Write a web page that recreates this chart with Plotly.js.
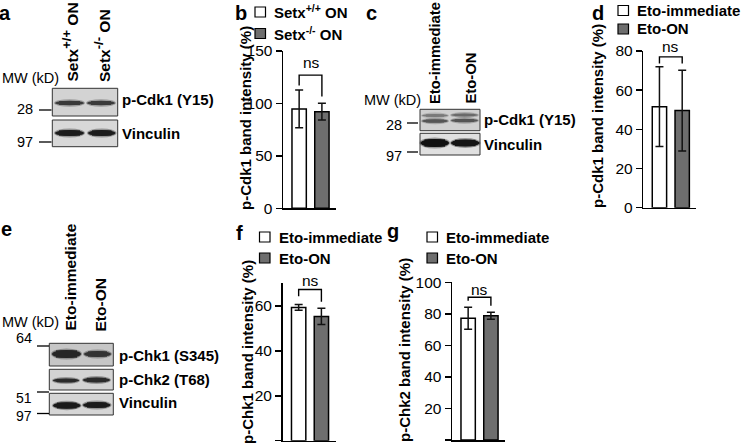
<!DOCTYPE html>
<html>
<head>
<meta charset="utf-8">
<script src="https://cdn.plot.ly/plotly-3.0.1.min.js"></script>
<style>html,body{margin:0;padding:0;background:#fff;}#chart{width:742px;height:446px;}</style>
</head>
<body>
<div id="chart"></div>
<script>
// ---------- data ----------
const catsB = ['Setx+/+ ON', 'Setx-/- ON'];
const catsEto = ['Eto-immediate', 'Eto-ON'];

const bMeans = [94.7, 92.1];
const bErr = [18, 8];
const bBracket = [117, 127, 127, 106.5];

const dMeans = [51.6, 49.6];
const dErr = [20.4, 20.6];
const dBracket = [73.6, 77, 77, 73.6];

const fMeans = [59.3, 55.3];
const fErr = [1.3, 3.6];
const fBracket = [64.3, 67.3, 67.3, 61.8];

const gMeans = [77.2, 78.8];
const gErr = [7, 2.2];
const gBracket = [88.3, 90.5, 90.5, 85.2];

const bTicks = [0, 50, 100, 150];
const dTicks = [0, 20, 40, 60, 80];
const fTicks = [0, 20, 40, 60];
const gTicks = [0, 20, 40, 60, 80, 100];

// ---------- helpers ----------
const W = 742, H = 446;
const X = p => p / W;
const Y = p => 1 - p / H;
const FONT = 'Liberation Sans, Arial, Helvetica, sans-serif';
const GRAY = '#6e6e6e';

function barTrace(cats, means, err, xa, ya) {
  return {
    type: 'bar', x: cats, y: means, xaxis: xa, yaxis: ya, width: 0.63,
    marker: {color: ['#ffffff', GRAY], line: {color: '#000', width: 1.5}},
    error_y: {type: 'data', array: err, visible: true, color: '#111', thickness: 1.5, width: 4},
    hoverinfo: 'skip'
  };
}
function bracketTrace(cats, br, xa, ya) {
  return {
    type: 'scatter', mode: 'lines', x: [cats[0], cats[0], cats[1], cats[1]], y: br,
    xaxis: xa, yaxis: ya, line: {color: '#000', width: 1.4}, hoverinfo: 'skip', cliponaxis: false
  };
}
function xAx(l, r) {
  return {domain: [X(l), X(r)], range: [-0.71, 1.62], type: 'category', showline: true, linecolor: '#000',
    linewidth: 1.5, ticks: '', showticklabels: false, showgrid: false, zeroline: false, fixedrange: true};
}
function yAx(bottom, top, range, ticks) {
  return {domain: [Y(bottom), Y(top)], range: range, tickvals: ticks, ticktext: ticks.map(String),
    showline: true, linecolor: '#000', linewidth: 1.5, ticks: 'outside', ticklen: 6, tickwidth: 1.5,
    tickcolor: '#000', showgrid: false, zeroline: false, tickfont: {family: FONT, size: 15.5, color: '#000'},
    fixedrange: true};
}

const data = [
  barTrace(catsB, bMeans, bErr, 'x', 'y'),
  bracketTrace(catsB, bBracket, 'x', 'y'),
  barTrace(catsEto, dMeans, dErr, 'x2', 'y2'),
  bracketTrace(catsEto, dBracket, 'x2', 'y2'),
  barTrace(catsEto, fMeans, fErr, 'x3', 'y3'),
  bracketTrace(catsEto, fBracket, 'x3', 'y3'),
  barTrace(catsEto, gMeans, gErr, 'x4', 'y4'),
  bracketTrace(catsEto, gBracket, 'x4', 'y4')
];

// ---------- annotations ----------
const ann = [];
function txt(text, x, y, o) {
  o = o || {};
  ann.push(Object.assign({text: text, x: X(x), y: Y(y), xref: 'paper', yref: 'paper', showarrow: false,
    xanchor: 'left', yanchor: 'middle', font: {family: FONT, size: 14, color: '#000'}}, o));
}
function bold(text, x, y, size, o) {
  o = Object.assign({}, o || {});
  o.font = {family: FONT, size: size, color: '#000'};
  txt('<b>' + text + '</b>', x, y, o);
}
// panel letters
[['a', 5, 12.5], ['b', 241, 13], ['c', 371, 12.5], ['d', 598, 12.5], ['e', 6, 229], ['f', 239, 233], ['g', 393, 231]]
  .forEach(l => bold(l[0], l[1], l[2], 20, {xanchor: 'center'}));

// y-axis titles
bold('p-Cdk1 band intensity (%)', 245, 118, 15, {xanchor: 'center', textangle: -90});
bold('p-Cdk1 band intensity (%)', 598, 116, 15, {xanchor: 'center', textangle: -90});
bold('p-Chk1 band intensity (%)', 247, 352, 15, {xanchor: 'center', textangle: -90});
bold('p-Chk2 band intensity (%)', 404, 350, 15, {xanchor: 'center', textangle: -90});

// ns labels
const nsFont = {family: FONT, size: 15.5, color: '#000'};
txt('ns', 311.3, 63, {xanchor: 'center', font: nsFont});
txt('ns', 670.3, 47, {xanchor: 'center', font: nsFont});
txt('ns', 310, 280, {xanchor: 'center', font: nsFont});
txt('ns', 479.8, 289.5, {xanchor: 'center', font: nsFont});

// legends
const shapes = [];
function rectPx(x0, y0, x1, y1, fill, lc, lw) {
  shapes.push({type: 'rect', xref: 'paper', yref: 'paper', x0: X(x0), x1: X(x1), y0: Y(y1), y1: Y(y0),
    fillcolor: fill, line: {color: lc || '#000', width: lw === undefined ? 1.2 : lw}});
}
function legend(x, y1, y2, t1, t2) {
  rectPx(x, y1 - 5, x + 10.5, y1 + 5, '#fff', '#000', 1.2);
  rectPx(x, y2 - 5, x + 10.5, y2 + 5, GRAY, '#000', 1.2);
  bold(t1, x + 17, y1, 15);
  bold(t2, x + 17, y2, 15);
}
legend(255, 12, 33.5, 'Setx<sup>+/+</sup> ON', 'Setx<sup>-/-</sup> ON');
legend(618, 10.5, 29, 'Eto-immediate', 'Eto-ON');
legend(259.5, 237, 258, 'Eto-immediate', 'Eto-ON');
legend(427, 237, 258, 'Eto-immediate', 'Eto-ON');

// ---------- western blot panels (decorative) ----------
function band(x0, x1, yc, t, color) {
  shapes.push({type: 'circle', xref: 'paper', yref: 'paper', x0: X(x0 - 1), x1: X(x1 + 1),
    y0: Y(yc + t / 2 + 1.5), y1: Y(yc - t / 2 - 1.5), fillcolor: color, opacity: 0.35, line: {width: 0}});
  shapes.push({type: 'circle', xref: 'paper', yref: 'paper', x0: X(x0), x1: X(x1),
    y0: Y(yc + t / 2), y1: Y(yc - t / 2), fillcolor: color, line: {width: 0}});
  shapes.push({type: 'rect', xref: 'paper', yref: 'paper', x0: X(x0 + 4), x1: X(x1 - 4),
    y0: Y(yc + t / 2 - 0.3), y1: Y(yc - t / 2 + 0.3), fillcolor: color, line: {width: 0}});
}
function dash(x0, x1, y) {
  shapes.push({type: 'line', xref: 'paper', yref: 'paper', x0: X(x0), x1: X(x1), y0: Y(y), y1: Y(y),
    line: {color: '#000', width: 1.3}});
}
const mw = {family: FONT, size: 14.5, color: '#000'};
const supBig = s => '<sup><span style="font-size:13px">' + s + '</span></sup>';

// panel a
txt('MW (kD)', 0, 78, {font: mw});
bold('Setx' + supBig('+/+') + ' ON', 70, 84, 15.5, {xanchor: 'center', yanchor: 'bottom', textangle: -90});
bold('Setx' + supBig('-/-') + ' ON', 101.5, 84, 15.5, {xanchor: 'center', yanchor: 'bottom', textangle: -90});
rectPx(52.3, 88.3, 117.7, 116, '#d3d3d3', '#333', 1);
rectPx(52.3, 120, 117.7, 146.7, '#d8d8d8', '#333', 1);
band(55, 84, 103, 4.5, '#3a3a3a');
band(87, 115, 103, 4.5, '#3a3a3a');
band(55, 84, 133, 6, '#1c1c1c');
band(88, 115.5, 133, 6, '#1c1c1c');
txt('28', 35, 109, {xanchor: 'right', font: mw});
dash(39, 51.5, 110);
txt('97', 35, 142, {xanchor: 'right', font: mw});
dash(39, 51.5, 142);
bold('p-Cdk1 (Y15)', 120, 100, 15);
bold('Vinculin', 120, 133, 15);

// panel c
txt('MW (kD)', 362, 100, {font: mw});
bold('Eto-immediate', 435, 106, 14.8, {xanchor: 'center', yanchor: 'bottom', textangle: -90});
bold('Eto-ON', 470, 106, 14.8, {xanchor: 'center', yanchor: 'bottom', textangle: -90});
rectPx(420, 109.3, 480, 130.7, '#d0d0d0', '#333', 1);
rectPx(420, 133.3, 480, 155, '#e0e0e0', '#333', 1);
band(422, 448, 115.5, 3, '#7a7a7a');
band(451, 478, 115, 3, '#6a6a6a');
band(422, 448, 121, 3.5, '#555555');
band(451, 478, 120.5, 3.5, '#555555');
band(420.5, 449, 143, 8, '#111111');
band(451, 479.5, 143, 7, '#151515');
txt('28', 404, 125, {xanchor: 'right', font: mw});
dash(407, 418, 123);
txt('97', 404, 156, {xanchor: 'right', font: mw});
dash(407, 418, 152);
bold('p-Cdk1 (Y15)', 482, 119, 15);
bold('Vinculin', 482, 145, 15);

// panel e
txt('MW (kD)', 0, 322, {font: mw});
bold('Eto-immediate', 70, 333, 15.5, {xanchor: 'center', yanchor: 'bottom', textangle: -90});
bold('Eto-ON', 100, 333, 15.5, {xanchor: 'center', yanchor: 'bottom', textangle: -90});
rectPx(49.3, 343.3, 113.3, 366, '#c6c6c6', '#333', 1);
rectPx(49.3, 369.3, 113.3, 390, '#d3d3d3', '#333', 1);
rectPx(49.3, 393.3, 113.3, 415, '#d6d6d6', '#333', 1);
band(52, 81, 354, 8, '#262626');
band(84, 111, 354, 6, '#333333');
band(53, 79, 380.5, 4, '#2a2a2a');
band(83, 110, 380, 5, '#2a2a2a');
band(53, 80.5, 405.5, 6.5, '#1a1a1a');
band(83, 110.5, 405, 6, '#1a1a1a');
txt('64', 34, 338, {xanchor: 'right', font: mw});
dash(37, 49, 346);
txt('51', 34, 398, {xanchor: 'right', font: {family: FONT, size: 14, color: '#000'}});
dash(37, 49, 392);
txt('97', 34, 416, {xanchor: 'right', font: {family: FONT, size: 14, color: '#000'}});
dash(37, 49, 413.5);
bold('p-Chk1 (S345)', 117, 355, 15);
bold('p-Chk2 (T68)', 117, 379, 15);
bold('Vinculin', 117, 402, 15);

// ---------- layout ----------
const layout = {
  width: W, height: H, margin: {l: 0, r: 0, t: 0, b: 0}, showlegend: false,
  paper_bgcolor: '#fff', plot_bgcolor: 'rgba(0,0,0,0)', bargap: 0,
  font: {family: FONT, color: '#000'},
  xaxis: Object.assign(xAx(283, 336), {anchor: 'y'}), yaxis: Object.assign(yAx(208.3, 51, [0, 150], bTicks), {anchor: 'x'}),
  xaxis2: Object.assign(xAx(643.3, 696.3), {anchor: 'y2'}), yaxis2: Object.assign(yAx(207.7, 51, [0, 80], dTicks), {anchor: 'x2'}),
  xaxis3: Object.assign(xAx(282.5, 335.5), {anchor: 'y3'}), yaxis3: Object.assign(yAx(440.7, 283.4, [0, 70], fTicks), {anchor: 'x3'}),
  xaxis4: Object.assign(xAx(452, 505), {anchor: 'y4'}), yaxis4: Object.assign(yAx(440, 282.3, [0, 100], gTicks), {anchor: 'x4'}),
  annotations: ann, shapes: shapes
};

Plotly.newPlot('chart', data, layout, {displayModeBar: false, staticPlot: true});
</script>
</body>
</html>
